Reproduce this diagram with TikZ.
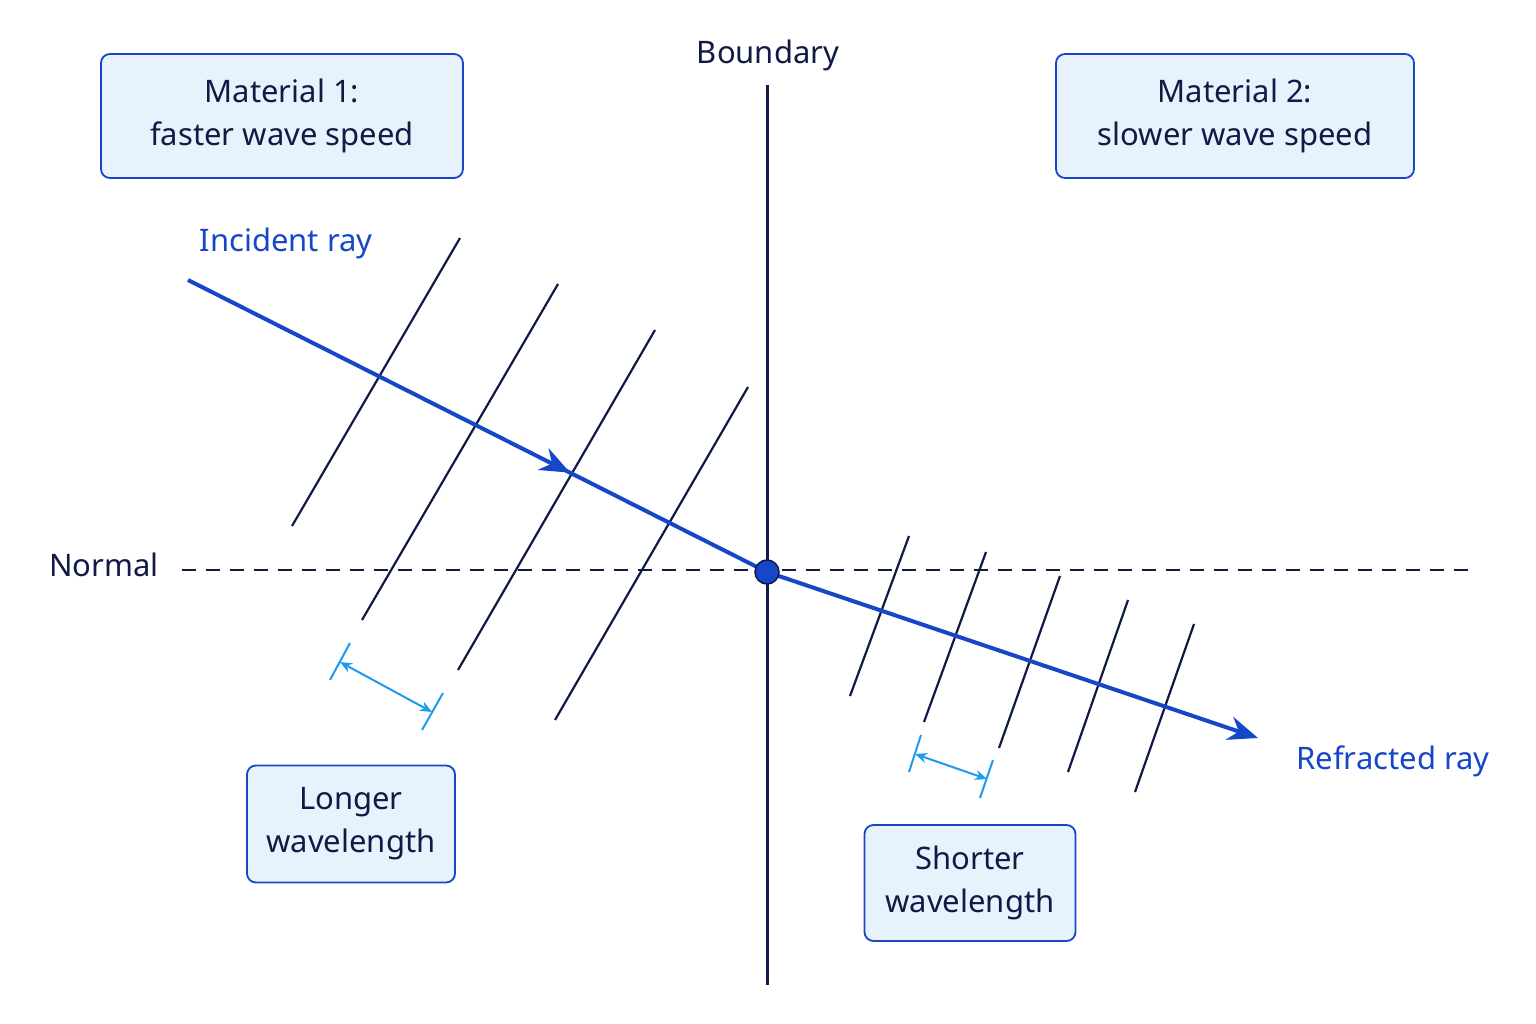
\documentclass[tikz,border=0pt]{standalone}
\usepackage{fontspec}
\setmainfont{Noto Sans}
\usetikzlibrary{arrows.meta,decorations.markings}
\definecolor{navy}{HTML}{0F1B45}
\definecolor{rayblue}{HTML}{1547C8}
\definecolor{lblue}{HTML}{1E9BEF}
\definecolor{boxfill}{HTML}{E8F2FD}
\begin{document}
\begin{tikzpicture}[x=1pt,y=-1pt,
  box/.style={draw=rayblue,line width=1.8pt,fill=boxfill,rounded corners=9pt,align=center,text=navy,font=\fontsize{31}{43}\selectfont},
  lbl/.style={font=\fontsize{31}{38}\selectfont},
  wave/.style={navy,line width=2.2pt},
  ray/.style={rayblue,line width=4pt},
  dim/.style={lblue,line width=2pt,{Stealth[length=12pt,width=10pt]}-{Stealth[length=12pt,width=10pt]}},
  tick/.style={lblue,line width=2pt}]
\useasboundingbox (0,0) rectangle (1536,1024);
\fill[white] (0,0) rectangle (1536,1024);
% boxes
\node[box,minimum width=362pt,minimum height=124pt] (m1) at (282,116) {Material 1:\\faster wave speed};
\node[box,minimum width=358pt,minimum height=124pt] (m2) at (1235,116) {Material 2:\\slower wave speed};
\node[box,minimum width=208pt,minimum height=117pt] (lw) at (351,824) {Longer\\wavelength};
\node[box,minimum width=211pt,minimum height=116pt] (sw) at (970,883) {Shorter\\wavelength};
% labels
\node[lbl,text=navy] (bl) at (768,55) {Boundary};
\node[lbl,text=navy] (nl) at (104,565) {Normal};
\node[lbl,text=rayblue] (il) at (286,243) {Incident ray};
\node[lbl,text=rayblue] (rl) at (1393,761) {Refracted ray};
% boundary and normal
\coordinate (bt) at (767,85); \coordinate (bb) at (767,985);
\draw[navy,line width=3pt] (bt) -- (bb);
\coordinate (n1) at (182,570); \coordinate (n2) at (1470,570);
\draw[navy,line width=2pt,dash pattern=on 14pt off 10pt] (n1) -- (n2);
% wavefronts
\draw[wave] (292,526) -- (460,238);
\draw[wave] (362,620) -- (558,284);
\draw[wave] (458,670) -- (655,330);
\draw[wave] (555,720) -- (748,387);
\draw[wave] (850,696) -- (909,536);
\draw[wave] (924,722) -- (986,552);
\draw[wave] (999,748) -- (1060,576);
\draw[wave] (1068,772) -- (1128,600);
\draw[wave] (1135,792) -- (1194,624);
% rays
\coordinate (is) at (188,280);
\coordinate (o) at (767,572);
\coordinate (re) at (1258,738);
\draw[ray,decoration={markings,mark=at position 0.66 with {\arrow{Stealth[length=30pt,width=24pt]}}},postaction=decorate] (is) -- (o);
\draw[ray,-{Stealth[length=30pt,width=24pt]}] (o) -- (re);
\fill[rayblue] (o) circle (12pt);
\draw[navy,line width=1.5pt] (o) circle (12pt);
% dimension arrows
\draw[tick] (330,680) -- (350,643);
\draw[tick] (422,730) -- (443,693);
\draw[dim] (340,662) -- (432,712);
\draw[tick] (909,772) -- (921,735);
\draw[tick] (980,798) -- (993,760);
\draw[dim] (915,754) -- (987,779);
\end{tikzpicture}
\end{document}
